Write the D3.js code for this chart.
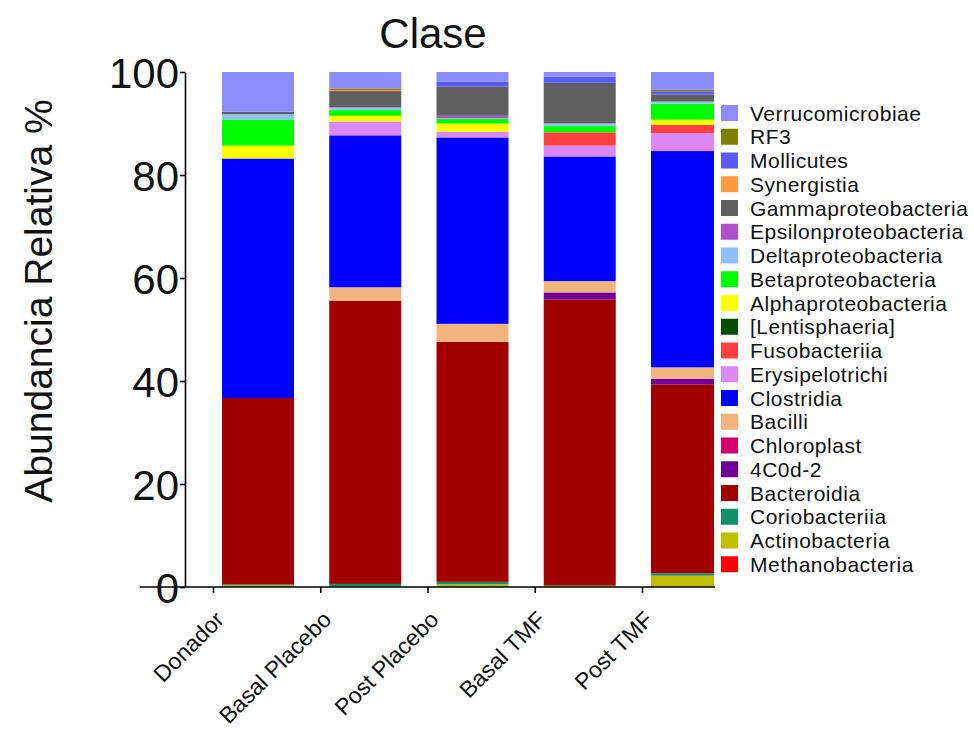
<!DOCTYPE html>
<html>
<head>
<meta charset="utf-8">
<script src="https://cdn.jsdelivr.net/npm/d3@7"></script>
<style>
  html, body { margin: 0; padding: 0; background: #fff; }
  svg { display: block; font-family: "Liberation Sans", Arial, sans-serif; }
</style>
</head>
<body>
<svg id="chart" width="974" height="731"></svg>
<script>
// Groups on the x axis
const groups = ["Donador", "Basal Placebo", "Post Placebo", "Basal TMF", "Post TMF"];

// Relative abundance (%) per class, one value per group, stacked bottom -> top
const methanobacteria    = [0.0, 0.0, 0.0, 0.0, 0.0];
const actinobacteria     = [0.3, 0.1, 0.5, 0.2, 2.2];
const coriobacteriia     = [0.2, 0.5, 0.5, 0.1, 0.45];
const bacteroidia        = [36.2, 55.0, 46.6, 55.5, 36.7];
const c4C0d2             = [0.0, 0.0, 0.0, 1.4, 1.1];
const chloroplast        = [0.0, 0.0, 0.0, 0.0, 0.0];
const bacilli            = [0.0, 2.6, 3.5, 2.2, 2.2];
const clostridia         = [46.5, 29.5, 36.2, 24.2, 42.0];
const erysipelotrichi    = [0.0, 2.7, 1.1, 2.1, 3.5];
const fusobacteriia      = [0.0, 0.0, 0.0, 2.6, 1.6];
const lentisphaeria      = [0.0, 0.0, 0.0, 0.0, 0.0];
const alphaproteo        = [2.5, 1.1, 1.6, 0.0, 1.0];
const betaproteo         = [5.1, 1.1, 0.9, 1.2, 3.1];
const deltaproteo        = [1.0, 0.5, 0.1, 0.5, 0.4];
const epsilonproteo      = [0.0, 0.0, 0.5, 0.0, 0.0];
const gammaproteo        = [0.5, 3.2, 5.7, 7.9, 1.4];
const synergistia        = [0.0, 0.2, 0.0, 0.0, 0.0];
const mollicutes         = [0.0, 0.0, 0.9, 1.2, 0.6];
const rf3                = [0.0, 0.3, 0.0, 0.0, 0.3];
const verrucomicrobiae   = [7.7, 3.2, 1.9, 0.9, 3.45];

// Class names (stack order, bottom first) and their colours
const classNames = ["Methanobacteria", "Actinobacteria", "Coriobacteriia", "Bacteroidia", "4C0d-2",
  "Chloroplast", "Bacilli", "Clostridia", "Erysipelotrichi", "Fusobacteriia", "[Lentisphaeria]",
  "Alphaproteobacteria", "Betaproteobacteria", "Deltaproteobacteria", "Epsilonproteobacteria",
  "Gammaproteobacteria", "Synergistia", "Mollicutes", "RF3", "Verrucomicrobiae"];
const classValues = [methanobacteria, actinobacteria, coriobacteriia, bacteroidia, c4C0d2,
  chloroplast, bacilli, clostridia, erysipelotrichi, fusobacteriia, lentisphaeria,
  alphaproteo, betaproteo, deltaproteo, epsilonproteo, gammaproteo, synergistia, mollicutes,
  rf3, verrucomicrobiae];
const classColors = ["#ff0000", "#c0c000", "#10906a", "#a00000", "#700098",
  "#d0006c", "#f0b47c", "#0000ff", "#dd88f8", "#ff4040", "#005000",
  "#ffff00", "#00ff00", "#90c0ff", "#b050d0",
  "#606060", "#ff9a40", "#5a5aff", "#808000", "#8c8cff"];

const yTicks = [0, 20, 40, 60, 80, 100];

// ---- layout ----
const svg = d3.select("#chart");
const axisX = 185, plotRight = 714, yTop = 72, yBottom = 587;

const x = d3.scalePoint().domain(groups).range([213, 642]);
const barOffset = 9, barWidth = 72;
const y = d3.scaleLinear().domain([0, 100]).range([yBottom, yTop]);
const color = d3.scaleOrdinal().domain(classNames).range(classColors);

// table for the stack generator
const table = groups.map((g, i) => {
  const row = { group: g };
  classNames.forEach((c, k) => { row[c] = classValues[k][i]; });
  return row;
});
const series = d3.stack().keys(classNames)(table);

svg.append("defs").append("clipPath").attr("id", "plotClip")
  .append("rect").attr("x", axisX).attr("y", 0).attr("width", plotRight - axisX).attr("height", yBottom);

const bars = svg.append("g").attr("clip-path", "url(#plotClip)");
bars.selectAll("g.layer").data(series).join("g")
  .attr("class", "layer")
  .attr("fill", d => color(d.key))
  .selectAll("rect").data(d => d.filter(p => p[1] - p[0] > 0)).join("rect")
  .attr("x", d => x(d.data.group) + barOffset)
  .attr("width", barWidth)
  .attr("y", d => y(d[1]))
  .attr("height", d => y(d[0]) - y(d[1]));

// ---- axes ----
const yAxis = svg.append("g").attr("transform", `translate(${axisX},0)`)
  .call(d3.axisLeft(y).tickValues(yTicks).tickSize(5).tickSizeOuter(0).tickFormat(d3.format("d")));
yAxis.select(".domain").attr("stroke", "#000").attr("stroke-width", 1.6);
yAxis.selectAll(".tick line").attr("stroke", "#000").attr("stroke-width", 1.6);
yAxis.selectAll(".tick text").attr("font-size", 42).attr("fill", "#111")
  .attr("font-family", "Liberation Sans, Arial, sans-serif").attr("x", -6).attr("dy", "0.36em");

const xAxis = svg.append("g").attr("transform", `translate(0,${yBottom})`)
  .call(d3.axisBottom(x).tickSize(6).tickSizeOuter(0));
xAxis.select(".domain").attr("d", `M140,0H${plotRight + 1}`).attr("stroke", "#000").attr("stroke-width", 1.6);
xAxis.selectAll(".tick line").attr("stroke", "#000").attr("stroke-width", 1.6);
xAxis.selectAll(".tick text")
  .attr("font-size", 23).attr("fill", "#111")
  .attr("font-family", "Liberation Sans, Arial, sans-serif")
  .attr("text-anchor", "end")
  .attr("x", 0).attr("y", 0).attr("dy", 0)
  .attr("transform", "translate(12,34) rotate(-45)");

// ---- title and axis label ----
svg.append("text").attr("x", 433).attr("y", 48).attr("text-anchor", "middle")
  .attr("font-size", 42).attr("fill", "#111").text("Clase");

svg.append("text")
  .attr("transform", "translate(52,301) rotate(-90)")
  .attr("text-anchor", "middle").attr("font-size", 39).attr("fill", "#111")
  .text("Abundancia Relativa %");

// ---- legend (top row = top of stack) ----
const legendItems = classNames.slice().reverse();
const legend = svg.append("g").attr("transform", "translate(721,113)");
const rows = legend.selectAll("g").data(legendItems).join("g")
  .attr("transform", (d, i) => `translate(0,${i * 23.75})`);
rows.append("rect").attr("x", 0).attr("y", -8).attr("width", 17).attr("height", 16)
  .attr("fill", d => color(d));
rows.append("text").attr("x", 29).attr("y", 0).attr("dy", "0.36em")
  .attr("font-size", 21).attr("letter-spacing", 0.5).attr("fill", "#111").text(d => d);
</script>
</body>
</html>
